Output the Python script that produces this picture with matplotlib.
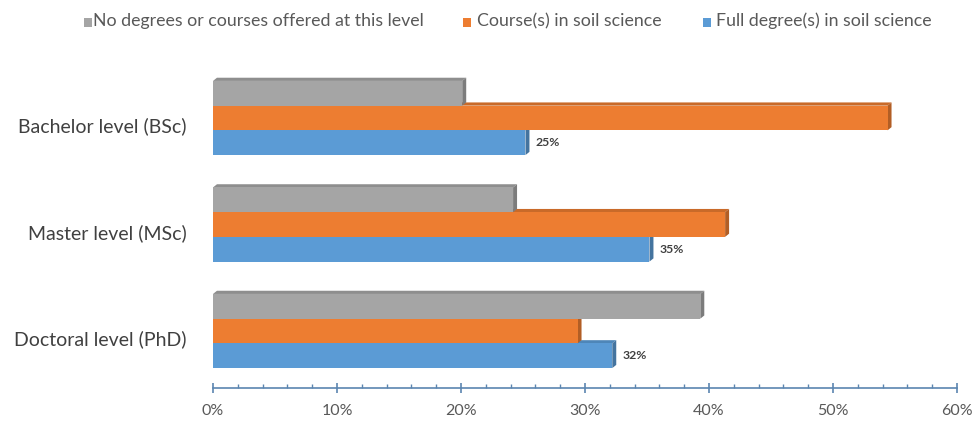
import matplotlib
matplotlib.use("Agg")
import matplotlib.pyplot as plt
from matplotlib.patches import Polygon, Rectangle
import matplotlib.transforms as mtransforms
import numpy as np

categories = ["Bachelor level (BSc)", "Master level (MSc)", "Doctoral level (PhD)"]
series_names = ["No degrees or courses offered at this level",
                "Course(s) in soil science",
                "Full degree(s) in soil science"]
no_degrees = [20.1, 24.2, 39.3]
courses = [54.4, 41.3, 29.4]
full_degree = [25.2, 35.2, 32.2]
full_labels = ["25%", "35%", "32%"]
xticks = [0, 10, 20, 30, 40, 50, 60]
xtick_labels = ["0%", "10%", "20%", "30%", "40%", "50%", "60%"]

face_colors = ["#A5A5A5", "#ED7D31", "#5B9BD5"]
side_colors = ["#7C7C7C", "#B25E25", "#44749F"]
top_colors = ["#8E8E8E", "#C96A29", "#4E86B8"]

plt.rcParams['font.family'] = ['Lato', 'DejaVu Sans']

W, H = 973, 421
fig = plt.figure(figsize=(W / 100, H / 100), dpi=100)
ax = fig.add_axes([213 / W, 1 - 388 / H, (957 - 213) / W, (388 - 61) / H])

n = len(categories)
ypos = np.arange(n)
h = 0.232
dx = 0.32
dy = 0.03
series = [no_degrees, courses, full_degree]
offsets = [-h, 0.0, h]

# draw from bottom series up so upper bars cover the top faces of lower ones
for si in [2, 1, 0]:
    vals = series[si]
    for ci in range(n):
        v = vals[ci]
        yc = ypos[ci] + offsets[si]
        yt = yc - h / 2
        yb = yc + h / 2
        z = 3 + (2 - si)
        ax.add_patch(Polygon([(0, yt), (v, yt), (v + dx, yt - dy), (dx, yt - dy)],
                             closed=True, facecolor=top_colors[si], edgecolor='none', zorder=z))
        ax.add_patch(Polygon([(v, yt), (v + dx, yt - dy), (v + dx, yb - dy), (v, yb)],
                             closed=True, facecolor=side_colors[si], edgecolor='none', zorder=z))
        ax.barh(yc, v, height=h, color=face_colors[si], edgecolor='none', zorder=z + 0.1)

for ci in range(n):
    ax.text(full_degree[ci] + dx + 0.5, ypos[ci] + h, full_labels[ci],
            va='center', ha='left', fontsize=8.8, fontweight='bold', color='#404040', zorder=10)

ax.set_xlim(0, 60)
ax.set_ylim(2 + 0.535, -0.535)
ax.set_yticks(ypos)
ax.set_yticklabels(categories, fontsize=14, color='#404040')
ax.tick_params(axis='y', length=0, pad=19)
shift = mtransforms.ScaledTranslation(0, -0.07, fig.dpi_scale_trans)
for lab in ax.get_yticklabels():
    lab.set_transform(lab.get_transform() + shift)
ax.set_xticks(xticks)
ax.set_xticklabels(xtick_labels, fontsize=11.5, color='#595959')
ax.set_xticks(np.arange(0, 61, 2), minor=True)
ax.tick_params(axis='x', which='major', direction='inout', length=7, width=1.2,
               color='#5B85B0', pad=8)
ax.tick_params(axis='x', which='minor', direction='in', length=3, width=1,
               color='#5B85B0')
for s in ['top', 'right', 'left']:
    ax.spines[s].set_visible(False)
ax.spines['bottom'].set_color('#5B85B0')
ax.spines['bottom'].set_linewidth(1.2)

# legend at top (manual placement)
leg_sq_x = [84, 463, 703]
leg_txt_x = [93, 477, 716]
for i in range(3):
    fig.patches.append(Rectangle((leg_sq_x[i] / W, 1 - 27 / H), 8 / W, 9 / H,
                                 transform=fig.transFigure, facecolor=face_colors[i],
                                 edgecolor='none'))
    fig.text(leg_txt_x[i] / W, 1 - 21 / H, series_names[i], fontsize=12.8,
             color='#595959', va='center', ha='left')

fig.savefig("out.png", dpi=100)
